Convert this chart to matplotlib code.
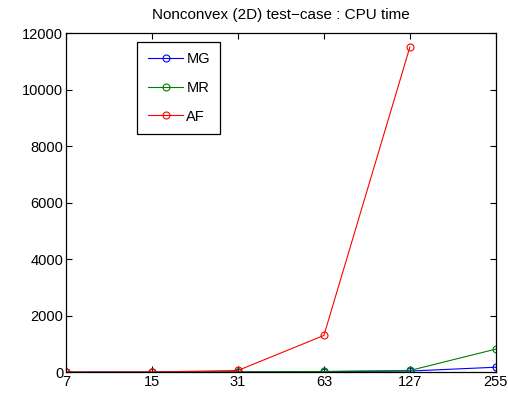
import matplotlib
matplotlib.use("Agg")
import matplotlib.pyplot as plt

plt.rcParams['font.family'] = ['Liberation Sans', 'DejaVu Sans']

sizes = ["7", "15", "31", "63", "127", "255"]
mg = [0.5, 2, 8, 20, 40, 175]
mr = [0.5, 2, 10, 25, 60, 815]
af = [1, 5, 60, 1300, 11500, None]

fig = plt.figure(figsize=(5.08, 3.93), dpi=100)
ax = fig.add_axes([0.130, 0.053, 0.846, 0.863])
x = list(range(len(sizes)))
ax.plot(x, mg, '-o', color='#0000ff', lw=0.8, ms=5, mfc='none', mew=0.8, label='MG')
ax.plot(x, mr, '-o', color='#008000', lw=0.8, ms=5, mfc='none', mew=0.8, label='MR')
afx = [i for i, v in enumerate(af) if v is not None]
afy = [v for v in af if v is not None]
ax.plot(afx, afy, '-o', color='#ff0000', lw=0.8, ms=5, mfc='none', mew=0.8, label='AF')

ax.set_xlim(0, len(sizes) - 1)
ax.set_ylim(0, 12000)
ax.set_xticks(x)
ax.set_xticklabels(sizes)
ax.set_yticks(range(0, 12001, 2000))
ax.tick_params(direction='in', top=True, right=True, labelsize=10.5, length=4, width=0.8, pad=2)
for s in ax.spines.values():
    s.set_linewidth(0.9)
ax.set_title('Nonconvex (2D) test\u2212case : CPU time', fontsize=11, pad=10)
leg = ax.legend(loc='upper left', bbox_to_anchor=(0.156, 0.986), fontsize=10.5,
                fancybox=False, edgecolor='black', framealpha=1, handlelength=2.45,
                handletextpad=0.2, numpoints=1, markerfirst=True,
                labelspacing=1.0, borderpad=0.7, borderaxespad=0.3)
leg.get_frame().set_linewidth(0.9)
fig.savefig('out.png', dpi=100)
